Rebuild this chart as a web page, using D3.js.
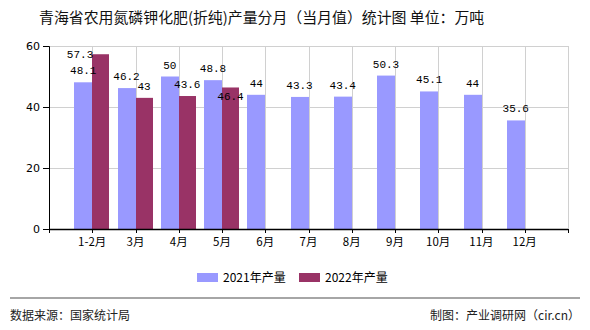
<!DOCTYPE html>
<html><head><meta charset="utf-8">
<script src="https://cdn.jsdelivr.net/npm/d3@7"></script>
<style>body{margin:0;background:#fff;} svg{display:block;}</style>
</head><body>
<svg id="c" width="590" height="330"></svg>
<script>
const categories = ["1-2月","3月","4月","5月","6月","7月","8月","9月","10月","11月","12月"];
const values2021 = [48.1,46.2,50,48.8,44,43.3,43.4,50.3,45.1,44,35.6];
const values2022 = [57.3,43,43.6,46.4];
const yTicks = [0,20,40,60];
const seriesNames = ["2021年产量","2022年产量"];
const colors = ["#9999FF","#993366"];

(function(){
const svg = d3.select("#c");
const pL = 49, pR = 568, pT = 46, pB = 229;
const cjk = "'Noto Sans CJK SC', sans-serif";
const mono = "'Liberation Mono', 'DejaVu Sans Mono', monospace";

const x = d3.scaleLinear().domain([0, categories.length + 1]).range([pL, pR]);
const y = d3.scaleLinear().domain([0, 60]).range([pB, pT]);

// title
svg.append("text").attr("x", 39).attr("y", 23).attr("font-family", cjk).attr("font-size", 14.9)
  .attr("fill", "#111").text("青海省农用氮磷钾化肥(折纯)产量分月（当月值）统计图 单位：万吨");

// grid
const g = svg.append("g");
g.selectAll("line.h").data(yTicks.filter(d => d > 0)).join("line")
  .attr("x1", pL).attr("x2", pR).attr("y1", d => Math.round(y(d)) + 0.5).attr("y2", d => Math.round(y(d)) + 0.5)
  .attr("stroke", "#d0d0d0").attr("stroke-width", 1);
const vIdx = d3.range(1, categories.length + 2);
g.selectAll("line.v").data(vIdx).join("line")
  .attr("x1", d => Math.round(x(d)) + 0.5).attr("x2", d => Math.round(x(d)) + 0.5).attr("y1", pT).attr("y2", pB)
  .attr("stroke", "#d0d0d0").attr("stroke-width", 1);

// bars
const bw1 = 18, bw2 = 17;
svg.append("g").selectAll("rect").data(values2021).join("rect")
  .attr("x", (d, i) => Math.round(x(i + 1)) - bw1).attr("width", bw1)
  .attr("y", d => y(d)).attr("height", d => pB - y(d)).attr("fill", colors[0]);
svg.append("g").selectAll("rect").data(values2022).join("rect")
  .attr("x", (d, i) => Math.round(x(i + 1))).attr("width", bw2)
  .attr("y", d => y(d)).attr("height", d => pB - y(d)).attr("fill", colors[1]);

// axes
const yAxis = d3.axisLeft(y).tickValues(yTicks).tickSize(6).tickPadding(3).tickFormat(d3.format("d"));
const ya = svg.append("g").attr("transform", `translate(${pL},0)`).call(yAxis);
ya.select(".domain").attr("stroke", "#000");
ya.selectAll("text").attr("font-family", "'DejaVu Sans', sans-serif").attr("font-size", 11).attr("fill", "#000");

const xa = svg.append("g");
xa.append("line").attr("x1", pL).attr("x2", pR).attr("y1", pB + 0.5).attr("y2", pB + 0.5)
  .attr("stroke", "#000").attr("stroke-width", 1.5);
xa.selectAll("line.t").data(d3.range(0, categories.length + 2)).join("line")
  .attr("x1", d => Math.round(x(d)) + 0.5).attr("x2", d => Math.round(x(d)) + 0.5).attr("y1", pB).attr("y2", pB + 4)
  .attr("stroke", "#000");
xa.selectAll("text").data(categories).join("text")
  .attr("x", (d, i) => x(i + 1)).attr("y", pB + 17).attr("text-anchor", "middle")
  .attr("font-family", cjk).attr("font-size", 11.5).attr("fill", "#000").text(d => d);

// value labels
const lbl = svg.append("g").attr("font-family", mono).attr("font-size", 11).attr("fill", "#000");
const pos1 = values2021.map((v, i) => ({x: x(i + 1) - bw1 / 2, y: y(v) - 8, v, a: "middle"}));
const pos2 = values2022.map((v, i) => {
  let p = {x: x(i + 1) + bw2 / 2, y: y(v) - 8, v, a: "middle"};
  if (p.y - 9 < pT) { p = {x: x(i + 1) + 1, y: y(v) + 4, v, a: "end"}; }
  else if (Math.abs(p.y - pos1[i].y) < 9) { p.y = y(v) + 13; }
  return p;
});
lbl.selectAll("text.a").data(pos1).join("text").attr("x", d => d.x).attr("y", d => d.y)
  .attr("text-anchor", d => d.a).text(d => d.v);
lbl.selectAll("text.b").data(pos2).join("text").attr("x", d => d.x).attr("y", d => d.y)
  .attr("text-anchor", d => d.a).text(d => d.v);

// legend
const lg = svg.append("g");
const lx = [197, 299];
seriesNames.forEach((n, i) => {
  lg.append("rect").attr("x", lx[i]).attr("y", 273).attr("width", 21).attr("height", 9).attr("fill", colors[i]);
  lg.append("text").attr("x", lx[i] + 26).attr("y", 282).attr("font-family", cjk).attr("font-size", 12)
    .attr("fill", "#000").text(n);
});

// footer
svg.append("line").attr("x1", 10).attr("x2", 580).attr("y1", 298).attr("y2", 298)
  .attr("stroke", "#888").attr("stroke-width", 1.5);
svg.append("text").attr("x", 10).attr("y", 320).attr("font-family", cjk).attr("font-size", 12)
  .attr("fill", "#222").text("数据来源：国家统计局");
svg.append("text").attr("x", 580).attr("y", 320).attr("text-anchor", "end").attr("font-family", cjk).attr("font-size", 12)
  .attr("fill", "#222").text("制图：产业调研网（cir.cn）");
})();
</script>
</body></html>
